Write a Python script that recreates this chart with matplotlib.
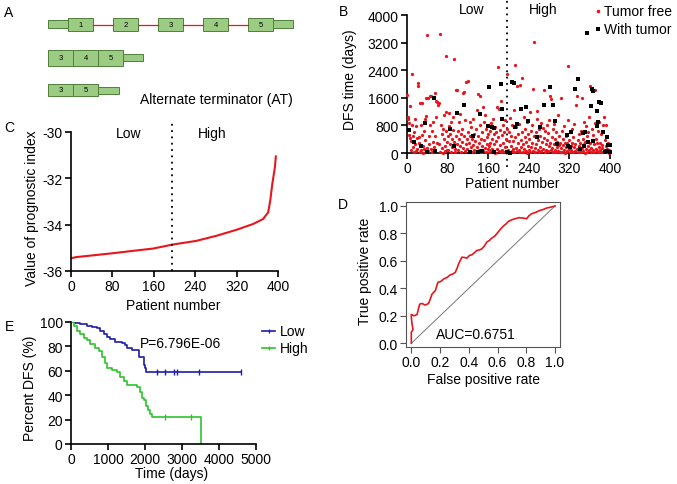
import numpy as np
import matplotlib
matplotlib.use("Agg")
import matplotlib.pyplot as plt
from matplotlib.patches import Rectangle
from matplotlib.lines import Line2D

plt.rcParams["font.family"] = ["Liberation Sans", "DejaVu Sans"]
plt.rcParams["font.size"] = 10
plt.rcParams["axes.unicode_minus"] = False

W, H = 677, 485
RED = "#e8161c"
BLUE = "#1c1ca8"
GREEN = "#2ec42e"

# ---- panel A: exon structures ----
full_exons = ["1", "2", "3", "4", "5"]
at_long_exons = ["3", "4", "5"]
at_short_exons = ["3", "5"]

# ---- panel B: DFS time per patient (patient number, days) ----
tumor_free = [
    (0, 1680), (1, 1050), (2, 1000), (3, 880), (4, 520), (5, 1350), (6, 430), (7, 80), (8, 360), (9, 2285),
    (10, 820), (11, 480), (12, 160), (13, 30), (14, 600), (15, 985), (16, 250), (17, 60), (18, 780), (19, 430),
    (20, 120), (21, 2030), (22, 1930), (23, 460), (24, 300), (25, 40), (26, 1450), (27, 820), (28, 90), (29, 530),
    (30, 1445), (31, 200), (32, 10), (33, 650), (34, 120), (35, 1000), (36, 380), (37, 1080), (38, 1580), (39, 3410),
    (40, 150), (41, 1600), (42, 60), (43, 500), (44, 270), (45, 1640), (46, 820), (47, 110), (48, 1640), (49, 20),
    (50, 640), (51, 900), (52, 330), (53, 180), (54, 60), (55, 480), (56, 1735), (57, 1050), (58, 1515), (59, 1465),
    (60, 300), (62, 1390), (63, 1450), (64, 250), (65, 30), (66, 3460), (67, 800), (68, 560), (69, 140), (70, 700),
    (71, 10), (72, 400), (73, 1100), (74, 210), (75, 50), (76, 640), (77, 2815), (77, 1180), (78, 330), (79, 90),
    (80, 500), (81, 80), (82, 780), (83, 1150), (84, 250), (85, 560), (86, 30), (87, 900), (88, 420), (89, 170),
    (90, 660), (91, 1050), (92, 2720), (93, 320), (94, 20), (95, 120), (96, 480), (97, 1830), (98, 1820), (99, 250),
    (100, 650), (101, 80), (102, 890), (103, 400), (104, 1130), (105, 200), (106, 30), (107, 560), (108, 330), (109, 700),
    (110, 1740), (111, 150), (112, 480), (113, 1755), (114, 60), (115, 950), (116, 270), (117, 2070), (118, 400), (119, 110),
    (120, 2080), (121, 620), (122, 30), (123, 300), (124, 890), (125, 500), (126, 180), (127, 760), (128, 40), (129, 420),
    (130, 1000), (131, 240), (132, 90), (133, 560), (134, 350), (135, 700), (136, 20), (137, 160), (138, 1240), (139, 480),
    (140, 1700), (141, 300), (142, 100), (143, 820), (144, 1660), (145, 30), (146, 420), (147, 600), (148, 210), (149, 1320),
    (150, 60), (151, 900), (152, 380), (153, 150), (154, 1100), (155, 700), (156, 40), (157, 260), (158, 470), (159, 110),
    (160, 560), (161, 200), (162, 20), (163, 650), (164, 300), (165, 80), (166, 880), (167, 420), (168, 130), (169, 1000),
    (170, 50), (171, 560), (172, 250), (173, 750), (174, 10), (175, 340), (176, 600), (177, 1320), (178, 120), (179, 2505),
    (180, 460), (181, 60), (182, 1270), (183, 680), (184, 230), (185, 1500), (186, 30), (187, 520), (188, 100), (189, 820),
    (190, 300), (191, 40), (192, 620), (193, 180), (194, 950), (195, 20), (196, 420), (197, 2285), (198, 700), (199, 80),
    (200, 350), (201, 620), (202, 30), (203, 1020), (204, 200), (205, 500), (206, 60), (207, 800), (208, 340), (209, 120),
    (210, 1250), (211, 20), (212, 2545), (213, 450), (214, 150), (215, 750), (216, 1930), (217, 50), (218, 300), (219, 560),
    (220, 100), (221, 850), (222, 40), (223, 1965), (224, 380), (225, 180), (226, 2160), (227, 600), (228, 20), (229, 260),
    (230, 1050), (231, 120), (232, 450), (233, 700), (234, 60), (235, 330), (236, 900), (237, 10), (238, 200), (239, 560),
    (240, 80), (241, 400), (242, 1200), (243, 30), (244, 650), (245, 160), (246, 820), (247, 300), (248, 70), (249, 1850),
    (250, 480), (251, 3220), (252, 150), (253, 20), (254, 600), (255, 250), (256, 1000), (257, 1225), (258, 90), (259, 380),
    (260, 700), (261, 30), (262, 500), (263, 180), (264, 880), (265, 60), (266, 330), (267, 720), (268, 120), (269, 1830),
    (270, 440), (271, 20), (272, 650), (273, 260), (274, 100), (275, 800), (276, 380), (277, 50), (278, 580), (279, 200),
    (280, 950), (281, 1640), (282, 300), (283, 80), (284, 1560), (285, 470), (286, 150), (287, 700), (288, 30), (289, 250),
    (290, 850), (291, 100), (292, 400), (293, 20), (294, 600), (295, 180), (296, 320), (297, 60), (298, 1100), (299, 240),
    (300, 500), (301, 40), (302, 300), (303, 1590), (304, 150), (305, 650), (306, 20), (307, 420), (308, 230), (309, 90),
    (310, 780), (311, 300), (312, 10), (313, 180), (314, 500), (315, 60), (316, 280), (317, 950), (318, 2525), (319, 130),
    (320, 380), (321, 40), (322, 620), (323, 200), (324, 100), (325, 300), (326, 700), (327, 20), (328, 450), (329, 160),
    (330, 850), (331, 60), (332, 260), (333, 1400), (334, 120), (335, 1640), (336, 30), (337, 380), (338, 560), (339, 200),
    (340, 80), (341, 300), (342, 650), (343, 20), (344, 1580), (345, 150), (346, 420), (347, 60), (348, 900), (349, 250),
    (350, 10), (351, 330), (352, 780), (353, 120), (354, 480), (355, 40), (356, 200), (357, 620), (358, 80), (359, 1050),
    (360, 300), (361, 1930), (362, 150), (363, 20), (364, 700), (365, 380), (366, 90), (367, 520), (368, 30), (369, 250),
    (370, 880), (371, 1830), (372, 120), (373, 420), (374, 60), (375, 300), (376, 640), (377, 20), (378, 180), (379, 900),
    (380, 100), (381, 300), (382, 40), (383, 560), (384, 150), (385, 230), (386, 20), (387, 820), (388, 1030), (389, 100),
    (390, 380), (391, 60), (392, 810), (393, 200), (394, 20), (395, 120), (396, 50), (397, 300), (398, 10), (399, 80),
]
with_tumor = [
    (3, 675), (14, 310), (28, 210), (36, 880), (39, 20), (54, 1600), (55, 60), (85, 695), (92, 210), (98, 1150),
    (113, 1390), (125, 20), (131, 480), (140, 40), (144, 1125), (148, 70), (160, 790), (162, 1900), (167, 740), (172, 715),
    (172, 40), (186, 1995), (187, 1270), (187, 985), (197, 20), (203, 0), (207, 2045), (210, 2025), (212, 740), (216, 840),
    (225, 1270), (234, 1320), (239, 935), (256, 455), (262, 760), (269, 1390), (281, 1900), (287, 1390), (292, 935), (295, 260),
    (316, 520), (317, 210), (321, 165), (323, 615), (331, 1850), (336, 2140), (341, 115), (346, 580), (348, 210), (351, 615),
    (354, 3490), (356, 310), (362, 1350), (364, 1850), (367, 1800), (367, 355), (374, 1225), (374, 790), (377, 885), (379, 1485),
    (382, 1445), (387, 600), (390, 30), (394, 470), (394, 70), (397, 240), (400, 240), (400, 20),
]
cutoff_patient = 197

# ---- panel C: sorted prognostic index ----
c_patient = [0, 10, 40, 82, 120, 159, 196, 242, 281, 320, 352, 371, 381, 385, 389, 394, 396]
c_index = [-35.45, -35.40, -35.33, -35.23, -35.13, -35.03, -34.86, -34.70, -34.48, -34.22, -33.97,
           -33.76, -33.47, -32.96, -32.24, -31.52, -31.01]

# ---- panel D: ROC curve ----
roc_fpr = [0.0, 0.0, 0.012, 0.005, 0.0, 0.0, 0.02, 0.04, 0.058, 0.075, 0.097, 0.12, 0.135, 0.144, 0.167,
           0.185, 0.205, 0.225, 0.25, 0.27, 0.29, 0.306, 0.32, 0.329, 0.352, 0.37, 0.387, 0.405, 0.421,
           0.44, 0.456, 0.475, 0.491, 0.51, 0.525, 0.545, 0.56, 0.58, 0.595, 0.62, 0.641, 0.66, 0.676,
           0.70, 0.722, 0.75, 0.78, 0.803, 0.82, 0.838, 0.87, 0.896, 0.92, 0.942, 0.977, 1.0]
roc_tpr = [0.0, 0.08, 0.10, 0.14, 0.19, 0.21, 0.20, 0.21, 0.285, 0.29, 0.278, 0.29, 0.33, 0.358, 0.383,
           0.444, 0.45, 0.468, 0.48, 0.498, 0.505, 0.517, 0.55, 0.578, 0.627, 0.625, 0.620, 0.64, 0.644,
           0.66, 0.676, 0.68, 0.688, 0.71, 0.737, 0.75, 0.766, 0.78, 0.798, 0.83, 0.854, 0.87, 0.888,
           0.90, 0.907, 0.915, 0.912, 0.907, 0.93, 0.944, 0.955, 0.968, 0.975, 0.985, 0.993, 1.0]
auc_text = "AUC=0.6751"

# ---- panel E: Kaplan-Meier DFS ----
low_t = [0, 120, 250, 432, 560, 703, 793, 883, 973, 1060, 1198, 1290, 1378, 1450, 1514, 1649, 1829, 1982, 2010, 2036, 4600]
low_s = [100, 99, 98, 97, 96, 95, 93, 90, 88, 86, 84, 83.5, 83, 81, 79, 77, 71, 65, 62, 59, 59]
low_censor_t = [2325, 2550, 2775, 2865, 3451, 4595]
low_censor_s = [59, 59, 59, 59, 59, 59]
high_t = [0, 72, 162, 252, 342, 432, 523, 658, 748, 838, 928, 973, 1108, 1243, 1333, 1423, 1514, 1784, 1856,
          1919, 1982, 2036, 2072, 2144, 2189, 3514, 3514]
high_s = [100, 97, 93, 90, 87, 85, 82, 79, 76, 71, 66, 62, 61, 59, 55, 52, 48, 47, 43, 38, 36, 31, 28, 25,
          22, 22, 0]
high_censor_t = [2550, 3244]
high_censor_s = [22, 22]
p_text = "P=6.796E-06"


def fx(x):
    return x / W


def fy(y):
    return 1 - y / H


def px_axes(fig, left, top, right, bottom):
    return fig.add_axes([left / W, 1 - bottom / H, (right - left) / W, (bottom - top) / H])


def prism(ax):
    for s in ["top", "right"]:
        ax.spines[s].set_visible(False)
    for s in ["left", "bottom"]:
        ax.spines[s].set_linewidth(1.2)
    ax.tick_params(direction="out", length=4, width=1.2, labelsize=10, pad=2)


fig = plt.figure(figsize=(W / 100, H / 100), dpi=100)

# ================= A =================
axA = fig.add_axes([0, 1 - 112 / H, 340 / W, 112 / H])
axA.set_xlim(0, 340)
axA.set_ylim(112, 0)
axA.axis("off")
box_fc = "#9ccc84"
box_ec = "#4f7f3a"


def exon(x0, x1, y0, y1, label=None):
    axA.add_patch(Rectangle((x0, y0), x1 - x0, y1 - y0, facecolor=box_fc, edgecolor=box_ec, lw=0.7))
    if label:
        axA.text((x0 + x1) / 2, (y0 + y1) / 2, label, ha="center", va="center", fontsize=5.5)


# full transcript
exon(48, 68, 21, 29)
starts = [68, 113, 158, 203, 248]
for i, lab in enumerate(full_exons):
    exon(starts[i], starts[i] + 25, 19, 32, lab)
    if i < len(full_exons) - 1:
        axA.plot([starts[i] + 25, starts[i + 1]], [25.5, 25.5], color=RED, lw=0.9)
exon(273, 293, 21, 29)
# alternate transcripts
for i, lab in enumerate(at_long_exons):
    exon(48 + 25 * i, 73 + 25 * i, 51, 67, lab)
exon(48 + 25 * len(at_long_exons), 68 + 25 * len(at_long_exons), 55, 62)
for i, lab in enumerate(at_short_exons):
    exon(48 + 25 * i, 73 + 25 * i, 85, 97, lab)
exon(48 + 25 * len(at_short_exons), 69 + 25 * len(at_short_exons), 88, 95)
axA.text(140, 100, "Alternate terminator (AT)", ha="left", va="center", fontsize=10)

# ================= B =================
axB = px_axes(fig, 407, 16, 610, 154)
prism(axB)
tf = np.array(tumor_free)
wt = np.array(with_tumor)
axB.scatter(tf[:, 0], tf[:, 1], s=5.5, color=RED, marker="o", linewidths=0, clip_on=False, zorder=3)
axB.scatter(wt[:, 0], wt[:, 1], s=10, color="black", marker="s", linewidths=0, clip_on=False, zorder=3)
axB.set_xlim(0, 400)
axB.set_ylim(0, 4000)
axB.set_xticks(range(0, 401, 80))
axB.set_yticks(range(0, 4001, 800))
axB.plot([cutoff_patient, cutoff_patient], [-420, 4480], ls=(0, (1, 2.5)), color="black", lw=1.3, clip_on=False)
axB.text(128, 4170, "Low", ha="center", va="center", fontsize=10)
axB.text(268, 4170, "High", ha="center", va="center", fontsize=10)
fig.text(fx(350), fy(80), "DFS time (days)", rotation=90, ha="center", va="center", fontsize=10)
fig.text(fx(512), fy(184), "Patient number", ha="center", va="center", fontsize=10)
# legend
fig.add_artist(Line2D([fx(598)], [fy(12)], marker="o", ms=2.6, color=RED, mew=0, ls="none"))
fig.add_artist(Line2D([fx(598)], [fy(30)], marker="s", ms=3.2, color="black", mew=0, ls="none"))
fig.text(fx(604), fy(12), "Tumor free", ha="left", va="center", fontsize=10)
fig.text(fx(604), fy(30), "With tumor", ha="left", va="center", fontsize=10)

# ================= C =================
axC = px_axes(fig, 71, 133, 278, 272)
prism(axC)
axC.plot(c_patient, c_index, color=RED, lw=1.5, solid_capstyle="butt")
axC.set_xlim(0, 400)
axC.set_ylim(-36, -30)
axC.set_xticks(range(0, 401, 80))
axC.set_yticks([-30, -32, -34, -36])
axC.plot([cutoff_patient - 1, cutoff_patient - 1], [-36, -29.55], ls=(0, (1, 2.5)), color="black", lw=1.3,
         clip_on=False)
axC.text(111, -30.05, "Low", ha="center", va="center", fontsize=10)
axC.text(273, -30.05, "High", ha="center", va="center", fontsize=10)
fig.text(fx(32), fy(208), "Value of prognostic index", rotation=90, ha="center", va="center", fontsize=10)
fig.text(fx(173), fy(306), "Patient number", ha="center", va="center", fontsize=10)

# ================= D =================
axD = px_axes(fig, 406, 203, 560, 348)
for s in axD.spines.values():
    s.set_linewidth(0.8)
    s.set_color("#555555")
axD.tick_params(direction="out", length=4, width=0.8, labelsize=10, pad=2, color="#555555")
axD.plot([0, 1], [0, 1], color="#777777", lw=0.7)
axD.plot(roc_fpr, roc_tpr, color=RED, lw=1.2)
axD.set_xlim(-0.037, 1.035)
axD.set_ylim(-0.027, 1.029)
axD.set_xticks(np.arange(0, 1.01, 0.2))
axD.set_yticks(np.arange(0, 1.01, 0.2))
axD.set_xticklabels(["0.0", "0.2", "0.4", "0.6", "0.8", "1.0"])
axD.set_yticklabels(["0.0", "0.2", "0.4", "0.6", "0.8", "1.0"])
axD.text(0.45, 0.066, auc_text, ha="center", va="center", fontsize=10)
fig.text(fx(365), fy(271), "True positive rate", rotation=90, ha="center", va="center", fontsize=10)
fig.text(fx(483), fy(380), "False positive rate", ha="center", va="center", fontsize=10)

# ================= E =================
axE = px_axes(fig, 71, 323, 256, 445)
prism(axE)
axE.plot(low_t, low_s, drawstyle="steps-post", color=BLUE, lw=1.2)
axE.plot(high_t, high_s, drawstyle="steps-post", color=GREEN, lw=1.2)
axE.plot(low_censor_t, low_censor_s, ls="none", marker="|", ms=4, mew=1, color=BLUE)
axE.plot(high_censor_t, high_censor_s, ls="none", marker="|", ms=4, mew=1, color=GREEN)
axE.set_xlim(0, 5000)
axE.set_ylim(0, 100)
axE.set_xticks(range(0, 5001, 1000))
axE.set_yticks(range(0, 101, 20))
axE.text(1874, 83, p_text, ha="left", va="center", fontsize=10)
fig.text(fx(30), fy(388), "Percent DFS (%)", rotation=90, ha="center", va="center", fontsize=10)
fig.text(fx(172), fy(474), "Time (days)", ha="center", va="center", fontsize=10)
for yy, col, lab in [(332, BLUE, "Low"), (349, GREEN, "High")]:
    fig.add_artist(Line2D([fx(262), fx(275)], [fy(yy), fy(yy)], color=col, lw=1.2))
    fig.add_artist(Line2D([fx(268.5)], [fy(yy)], marker="|", ms=3.5, mew=1, color=col, ls="none"))
    fig.text(fx(280), fy(yy), lab, ha="left", va="center", fontsize=10)

# panel letters
for lab, x, y in [("A", 9, 13), ("B", 343, 12), ("C", 9, 128), ("D", 343, 205), ("E", 10, 327)]:
    fig.text(fx(x), fy(y), lab, ha="center", va="center", fontsize=10)

fig.savefig("out.png", dpi=100)
